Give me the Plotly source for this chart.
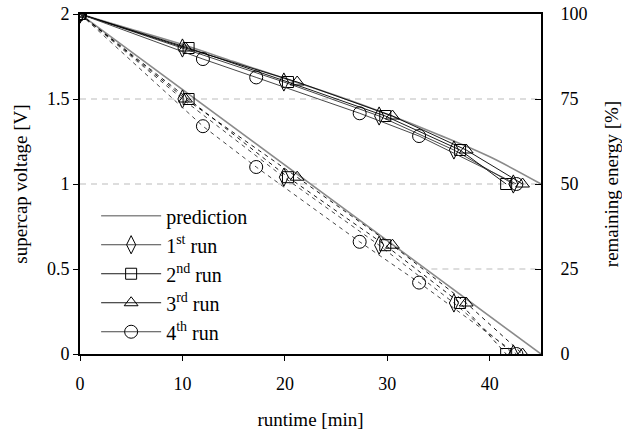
import plotly.graph_objects as go

# ---- data ----
pred_t = [0, 5, 10, 15, 20, 25, 30, 35, 40, 45]
pred_v = [2.0, 1.91, 1.82, 1.72, 1.62, 1.52, 1.41, 1.29, 1.16, 1.0]
pred_e_t = [0, 45]
pred_e = [100, 0]

run1_t = [0, 10.0, 19.9, 29.2, 36.5, 42.3]
run2_t = [0, 10.6, 20.3, 29.8, 37.1, 41.6]
run3_t = [0, 10.3, 21.2, 30.5, 37.7, 43.2]
run4_t = [0, 12.0, 17.2, 27.3, 33.1, 42.6]

run123_v = [2.0, 1.8, 1.6, 1.4, 1.2, 1.0]
run4_v = [2.0, 1.735, 1.627, 1.416, 1.282, 1.0]
run123_e = [100, 75, 52, 32, 15, 0]
run4_e = [100, 67, 55, 33, 21, 0]

run_names = ["1<sup>st</sup> run", "2<sup>nd</sup> run", "3<sup>rd</sup> run", "4<sup>th</sup> run"]
run_symbols = ["diamond-tall-open", "square-open", "triangle-up-open", "circle-open"]
run_sizes = [13, 11, 12, 13]
run_colors = ["#333333", "#000000", "#000000", "#333333"]

run_t = [run1_t, run2_t, run3_t, run4_t]
run_v = [run123_v, run123_v, run123_v, run4_v]
run_e = [run123_e, run123_e, run123_e, run4_e]

FONT = "Liberation Serif, Times New Roman, serif"

fig = go.Figure()

# prediction
fig.add_trace(go.Scatter(x=pred_t, y=pred_v, mode="lines", name="prediction",
                         line=dict(color="#8a8a8a", width=1.6), line_shape="spline"))
fig.add_trace(go.Scatter(x=pred_e_t, y=pred_e, mode="lines", name="prediction",
                         showlegend=False, yaxis="y2",
                         line=dict(color="#8a8a8a", width=1.6)))

for i in range(4):
    fig.add_trace(go.Scatter(
        x=run_t[i], y=run_v[i], mode="lines+markers", name=run_names[i],
        line=dict(color=run_colors[i], width=0.9),
        marker=dict(symbol=run_symbols[i], size=run_sizes[i], color="black",
                    line=dict(width=1, color="black"))))
    fig.add_trace(go.Scatter(
        x=run_t[i], y=run_e[i], mode="lines+markers", name=run_names[i],
        showlegend=False, yaxis="y2",
        line=dict(color=run_colors[i], width=0.9, dash="4px,4px"),
        marker=dict(symbol=run_symbols[i], size=run_sizes[i], color="black",
                    line=dict(width=1, color="black"))))

grid = dict(type="line", xref="x", yref="y", layer="below",
            line=dict(color="#bbbbbb", width=1, dash="6px,5px"))
shapes = [
    dict(grid, x0=0, x1=45, y0=1.5, y1=1.5),
    dict(grid, x0=0, x1=45, y0=1.0, y1=1.0),
    dict(grid, x0=34.3, x1=45, y0=0.5, y1=0.5),
]

fig.update_layout(
    width=622, height=432,
    margin=dict(l=80, r=81, t=14, b=78, autoexpand=False),
    paper_bgcolor="white", plot_bgcolor="white",
    font=dict(family=FONT, size=18, color="black"),
    shapes=shapes,
    showlegend=True,
    legend=dict(x=0.035, y=0.464, xanchor="left", yanchor="top",
                bgcolor="rgba(0,0,0,0)", font=dict(family=FONT, size=20),
                itemwidth=60, tracegroupgap=0),
    xaxis=dict(range=[0, 45], tickvals=[0, 10, 20, 30, 40], automargin=False,
               showline=True, linecolor="black", linewidth=1.6, mirror=True,
               ticks="outside", ticklen=5, tickcolor="black",
               ticklabelstandoff=8, ticklabeloverflow="allow",
               showgrid=False, zeroline=False,
               title=dict(text="runtime [min]", standoff=19, font=dict(size=19))),
    yaxis=dict(range=[0, 2], tickvals=[0, 0.5, 1, 1.5, 2], automargin=False,
               ticktext=["0", "0.5", "1", "1.5", "2"],
               showline=True, linecolor="black", linewidth=1.6,
               ticks="outside", ticklen=5, tickcolor="black",
               ticklabeloverflow="allow",
               showgrid=False, zeroline=False,
               title=dict(text="supercap voltage [V]", standoff=14, font=dict(size=19))),
    yaxis2=dict(range=[0, 100], tickvals=[0, 25, 50, 75, 100], overlaying="y",
                side="right", showline=True, linecolor="black", linewidth=1.6,
                automargin=False, ticklabeloverflow="allow",
                ticks="inside", ticklen=6, tickcolor="black",
                ticklabelstandoff=14,
                showgrid=False, zeroline=False,
                title=dict(text="remaining energy [%]", standoff=21, font=dict(size=19))),
)

fig.write_html("out.html", config={"displayModeBar": False},
               post_script="document.body.style.margin='0';")
